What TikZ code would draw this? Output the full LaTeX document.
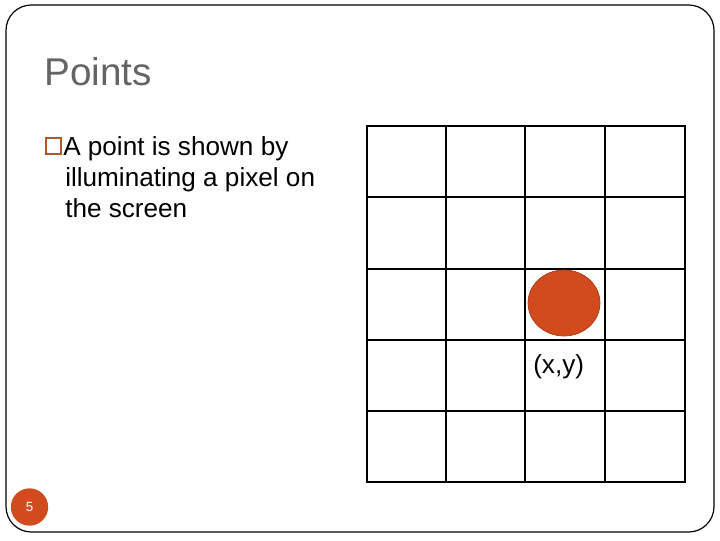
\documentclass[tikz,border=0pt]{standalone}
\usepackage{fontspec}
\setmainfont{Liberation Sans}
\usetikzlibrary{shapes.geometric}
\definecolor{accent}{HTML}{D24B1E}
\definecolor{accentdark}{HTML}{A83A14}
\definecolor{bulletc}{HTML}{B5552B}
\definecolor{titlegray}{HTML}{646464}
\begin{document}
\begin{tikzpicture}[x=0.75pt,y=-0.75pt,
  bodytext/.style={font=\fontsize{19.6pt}{23.6pt}\selectfont, text=black, inner sep=0pt, anchor=base west},
  outerline/.style={line width=2.2pt},
  innerline/.style={line width=1.5pt}]
\useasboundingbox (0,0) rectangle (720,540);
% slide frame
\draw[line width=0.9pt, rounded corners=19pt] (6,5) rectangle (714,532);
% title
\node[font=\fontsize{29pt}{34pt}\selectfont, text=titlegray, inner sep=0pt, anchor=base west] (title) at (44,85) {Points};
% bullet
\draw[bulletc, line width=1pt] (46,138) rectangle (61,154);
\node[bodytext] (l1) at (63,155) {A point is shown by};
\node[bodytext] (l2) at (65,186) {illuminating a pixel on};
\node[bodytext] (l3) at (65,217) {the screen};
% grid
\foreach \x in {446,525,605} \draw[innerline] (\x,126) -- (\x,482);
\foreach \y in {197,269,340,411} \draw[innerline] (367,\y) -- (685,\y);
\draw[outerline] (367,126) rectangle (685,482);
% pixel
\node[draw=accentdark, fill=accent, ellipse, minimum width=54pt, minimum height=49.5pt, inner sep=0pt, line width=0.5pt] (pix) at (564,303) {};
\node[bodytext] (lab) at (533,373) {(x,y)};
% page number
\node[circle, fill=accent, minimum size=28pt, inner sep=0pt, text=white, font=\fontsize{10pt}{12pt}\selectfont] (pg) at (29.5,507) {5};
\end{tikzpicture}
\end{document}
